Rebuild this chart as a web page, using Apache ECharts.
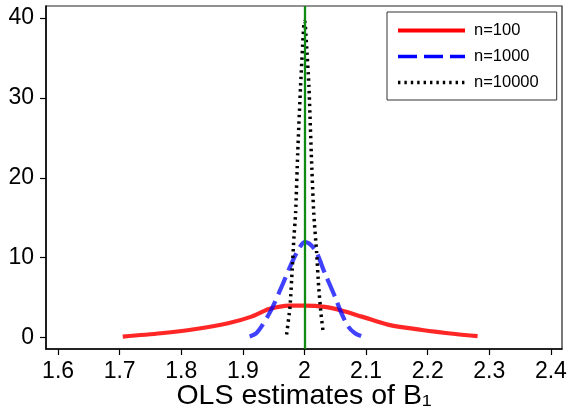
<!DOCTYPE html>
<html>
<head>
<meta charset="utf-8">
<script src="https://cdn.jsdelivr.net/npm/echarts@6/dist/echarts.min.js"></script>
<style>
  html, body { margin: 0; padding: 0; background: #fff; }
  #chart { width: 569px; height: 409px; }
</style>
</head>
<body>
<div id="chart"></div>
<script>
// density of OLS estimates
const n100X = [1.705, 1.767, 1.821, 1.876, 1.914, 1.941, 1.958, 1.975, 2.0, 2.033, 2.06, 2.093, 2.137, 2.191, 2.245, 2.281];
const n100Y = [0.13, 0.55, 1.05, 1.8, 2.63, 3.55, 3.85, 4.0, 4.0, 3.85, 3.4, 2.63, 1.6, 0.96, 0.46, 0.2];

const n1000X = [1.911, 1.921, 1.930, 1.946, 1.963, 1.979, 1.993, 2.001, 2.017, 2.033, 2.0496, 2.06, 2.071, 2.082, 2.092];
const n1000Y = [0.15, 0.5, 1.38, 3.47, 6.4, 9.3, 11.4, 11.95, 11.0, 8.07, 5.1, 3.06, 1.38, 0.55, 0.2];

const n10000X = [1.971, 1.9765, 1.980, 1.983, 1.9856, 1.989, 1.9936, 1.999, 2.0005, 2.003, 2.0072, 2.011, 2.015, 2.0197, 2.023, 2.0267, 2.0306];
const n10000Y = [0.4, 3.9, 8.5, 12.7, 15.6, 23.1, 31.45, 39.3, 39.6, 37.0, 31.45, 23.1, 15.6, 10.6, 6.4, 3.06, 0.5];

const xTicks = [1.6, 1.7, 1.8, 1.9, 2, 2.1, 2.2, 2.3, 2.4];
const yTicks = [0, 10, 20, 30, 40];
const trueBeta = 2;

const pairs = (xs, ys) => xs.map((x, i) => [x, ys[i]]);

const chart = echarts.init(document.getElementById("chart"));
const font = "Liberation Sans";

chart.setOption({
  backgroundColor: "#fff",
  animation: false,
  textStyle: { fontFamily: font },
  grid: {
    left: 46, top: 6, right: 7, bottom: 60,
    outerBoundsMode: "none",
    containLabel: false,
    show: true, borderColor: "#222", borderWidth: 1.2,
  },
  xAxis: {
    type: "value",
    min: 1.5804,
    max: 2.418,
    name: "OLS estimates of B\u2081",
    nameLocation: "middle",
    nameGap: 33,
    nameMoveOverlap: false,
    nameTextStyle: { fontSize: 28.5, color: "#000", fontFamily: font },
    axisLine: { show: true, onZero: false, lineStyle: { color: "#000", width: 1.5 } },
    axisTick: { show: true, length: 6, customValues: xTicks, lineStyle: { color: "#000", width: 1.2 } },
    axisLabel: {
      customValues: xTicks, margin: 11, fontSize: 23, color: "#000", fontFamily: font,
      formatter: (v) => String(Math.round(v * 10) / 10),
    },
    splitLine: { show: false },
  },
  yAxis: {
    type: "value",
    min: -1.42,
    max: 41.5,
    axisLine: { show: true, onZero: false, lineStyle: { color: "#000", width: 1.5 } },
    axisTick: { show: true, length: 6, customValues: yTicks, lineStyle: { color: "#000", width: 1.2 } },
    axisLabel: { customValues: yTicks, margin: 12, fontSize: 23, color: "#000", fontFamily: font },
    splitLine: { show: false },
  },
  legend: {
    orient: "vertical",
    left: 387,
    top: 12,
    itemWidth: 67,
    itemHeight: 16,
    itemGap: 9,
    padding: [10, 18, 9, 9],
    borderColor: "#333",
    borderWidth: 1,
    backgroundColor: "#fff",
    itemStyle: { opacity: 0 },
    textStyle: { fontSize: 16.5, color: "#000", fontFamily: font, padding: [0, 0, 0, 4] },
    data: [
      { name: "n=100", lineStyle: { opacity: 1, width: 4 } },
      { name: "n=1000", lineStyle: { opacity: 1, width: 3.5 } },
      { name: "n=10000", lineStyle: { opacity: 1, width: 3.5 } },
    ],
  },
  series: [
    {
      name: "n=100",
      type: "line",
      data: pairs(n100X, n100Y),
      symbol: "none",
      smooth: 0.3,
      lineStyle: { color: "#ff0000", width: 4.2, opacity: 0.85 },
      itemStyle: { color: "#ff0000" },
      z: 2,
    },
    {
      name: "n=1000",
      type: "line",
      data: pairs(n1000X, n1000Y),
      symbol: "none",
      smooth: 0.3,
      lineStyle: { color: "#0000ff", width: 4.2, opacity: 0.75, type: [19, 7] },
      itemStyle: { color: "#0000ff" },
      z: 3,
    },
    {
      name: "n=10000",
      type: "line",
      data: pairs(n10000X, n10000Y),
      symbol: "none",
      smooth: 0.2,
      lineStyle: { color: "#000", width: 3.5, type: [2.4, 4] },
      itemStyle: { color: "#000" },
      z: 4,
      markLine: {
        silent: true,
        symbol: "none",
        label: { show: false },
        lineStyle: { color: "#108a10", width: 2.3, type: "solid" },
        data: [{ xAxis: trueBeta }],
        z: 10,
      },
    },
  ],
});
</script>
</body>
</html>
